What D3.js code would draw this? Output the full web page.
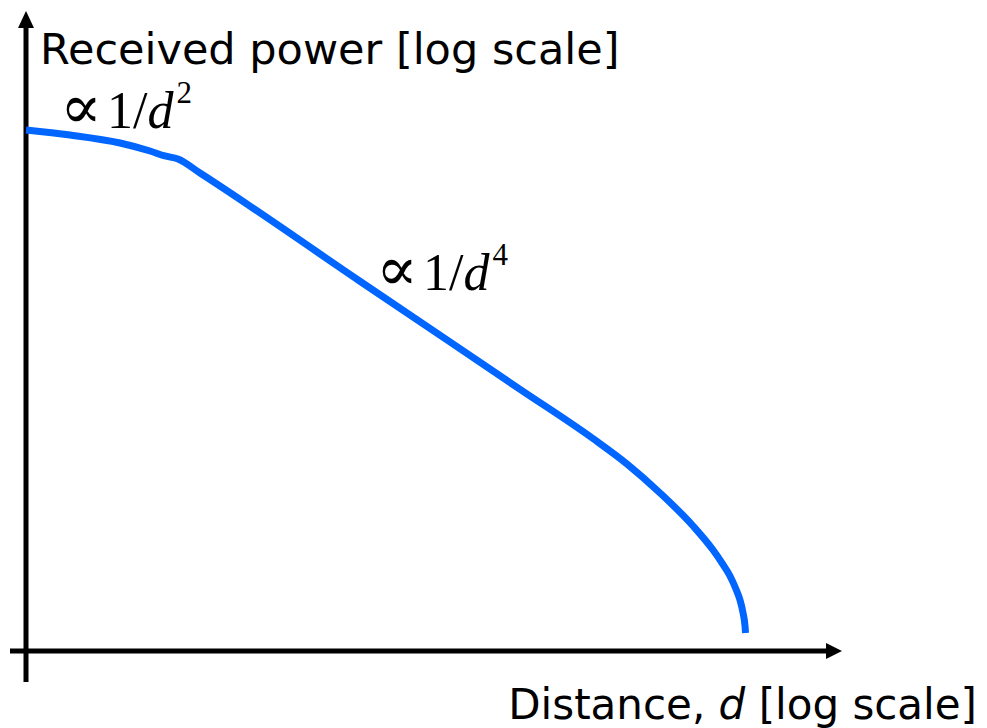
<!DOCTYPE html>
<html>
<head>
<meta charset="utf-8">
<script src="https://cdn.jsdelivr.net/npm/d3@7"></script>
<style>
  html, body { margin: 0; padding: 0; background: #fff; }
  svg { display: block; }
</style>
</head>
<body>
<svg id="chart" width="987" height="728"></svg>
<script>
// Distance in decades (log10 d) and received power in dB, both relative
const logDistance = [0, 0.216, 0.461, 0.608, 0.681, 0.745, 0.853, 1.637, 2.422, 2.779, 2.946, 3.108, 3.270, 3.368, 3.412, 3.451, 3.480, 3.500, 3.515, 3.525, 3.527];
const powerDb     = [-11.08, -11.55, -12.30, -13.05, -13.52, -13.80, -15.12, -25.28, -35.43, -40.05, -42.44, -45.16, -48.26, -50.52, -51.74, -52.96, -54.18, -55.21, -56.43, -57.75, -58.31];

const yAxisTitle = "Received power [log scale]";
const xAxisTitle = ["Distance, ", "d", " [log scale]"];
const slopeLabels = [
  { exponent: "2", at: [0.167, -10.89] },
  { exponent: "4", at: [1.716, -26.10] }
];

const svg = d3.select("#chart");

const x = d3.scaleLinear().domain([0, 4]).range([26, 842]);
const y = d3.scaleLinear().domain([-60, 0]).range([651, 12]);

const black = "#000";
const blue = "#0066ff";

// Axis lines with arrow heads
svg.append("line")
  .attr("x1", x(0)).attr("x2", x(0))
  .attr("y1", y(0) + 14).attr("y2", 682)
  .attr("stroke", black).attr("stroke-width", 5);
svg.append("path")
  .attr("d", `M${x(0)},${y(0) - 1} L${x(0) - 8},${y(0) + 16} L${x(0) + 8},${y(0) + 16} Z`)
  .attr("fill", black);

svg.append("line")
  .attr("x1", 10).attr("x2", x(4) - 14)
  .attr("y1", y(-60)).attr("y2", y(-60))
  .attr("stroke", black).attr("stroke-width", 5);
svg.append("path")
  .attr("d", `M${x(4)},${y(-60)} L${x(4) - 16},${y(-60) - 8} L${x(4) - 16},${y(-60) + 8} Z`)
  .attr("fill", black);

// Received power curve
const pts = logDistance.map((d, i) => [d, powerDb[i]]);
const line = d3.line()
  .x(d => x(d[0]))
  .y(d => y(d[1]))
  .curve(d3.curveMonotoneX);
svg.append("path")
  .datum(pts)
  .attr("d", line)
  .attr("fill", "none")
  .attr("stroke", blue)
  .attr("stroke-width", 7)
  .attr("stroke-linecap", "butt")
  .attr("stroke-linejoin", "round");

// Axis titles
svg.append("text")
  .attr("x", 40).attr("y", 64)
  .attr("font-family", "DejaVu Sans, Verdana, sans-serif")
  .attr("font-size", 43)
  .attr("fill", black)
  .text(yAxisTitle);

const xt = svg.append("text")
  .attr("x", 977).attr("y", 719)
  .attr("text-anchor", "end")
  .attr("font-family", "DejaVu Sans, Verdana, sans-serif")
  .attr("font-size", 42)
  .attr("fill", black);
xt.append("tspan").text(xAxisTitle[0]);
xt.append("tspan").attr("font-style", "italic").text(xAxisTitle[1]);
xt.append("tspan").text(xAxisTitle[2]);

// Slope annotations: proportional to 1/d^n
slopeLabels.forEach(lbl => {
  const t = svg.append("text")
    .attr("x", x(lbl.at[0]))
    .attr("y", y(lbl.at[1]))
    .attr("font-family", "Liberation Serif, Times New Roman, serif")
    .attr("font-size", 52)
    .attr("fill", black);
  t.append("tspan")
    .attr("font-family", "DejaVu Serif, serif")
    .attr("font-size", 62)
    .text("\u221D");
  t.append("tspan").attr("dx", 5).text("1/");
  t.append("tspan").attr("font-style", "italic").text("d");
  t.append("tspan")
    .attr("font-size", 31)
    .attr("dx", 3)
    .attr("dy", -25)
    .text(lbl.exponent);
});
</script>
</body>
</html>
